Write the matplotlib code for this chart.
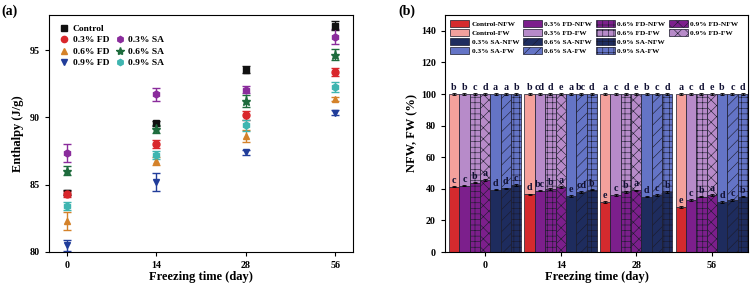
import matplotlib.pyplot as plt
import numpy as np
from matplotlib.patches import Patch
from matplotlib.lines import Line2D

plt.rcParams['font.family'] = ['Liberation Serif', 'DejaVu Serif']
plt.rcParams['font.weight'] = 'bold'
plt.rcParams['hatch.linewidth'] = 0.4

days = ['0', '14', '28', '56']

# (a) enthalpy, J/g
groups = ['Control', '0.3% FD', '0.6% FD', '0.9% FD', '0.3% SA', '0.6% SA', '0.9% SA']
enthalpy = {
    'Control': [84.4, 89.55, 93.55, 96.8],
    '0.3% FD': [84.3, 88.0, 90.15, 93.35],
    '0.6% FD': [82.3, 86.75, 88.6, 91.35],
    '0.9% FD': [80.5, 85.2, 87.4, 90.35],
    '0.3% SA': [87.35, 91.7, 92.05, 96.0],
    '0.6% SA': [86.05, 89.15, 91.2, 94.65],
    '0.9% SA': [83.45, 87.2, 89.4, 92.25],
}
enthalpy_err = {
    'Control': [0.2, 0.2, 0.25, 0.35],
    '0.3% FD': [0.2, 0.3, 0.35, 0.3],
    '0.6% FD': [0.65, 0.3, 0.45, 0.15],
    '0.9% FD': [0.4, 0.65, 0.2, 0.2],
    '0.3% SA': [0.65, 0.45, 0.25, 0.55],
    '0.6% SA': [0.3, 0.3, 0.45, 0.4],
    '0.9% SA': [0.3, 0.3, 0.4, 0.35],
}
markers = ['s', 'o', '^', 'v', 'h', '*', 'h']
mcolors = ['#111111', '#d9262b', '#d4822a', '#213d9a', '#8a2c9c', '#1d6b3c', '#3fb5b0']

# (b) non-freezable water (%), FW = 100 - NFW
nfw = {
    'Control': [41.4, 36.5, 31.5, 28.6],
    '0.3% FD': [42.0, 38.8, 36.1, 33.0],
    '0.6% FD': [43.9, 39.7, 38.0, 35.0],
    '0.9% FD': [45.4, 41.0, 39.0, 36.2],
    '0.3% SA': [39.5, 35.5, 35.0, 31.7],
    '0.6% SA': [40.3, 38.0, 36.2, 33.0],
    '0.9% SA': [42.5, 39.5, 38.0, 35.0],
}
top_letters = [['b', 'b', 'c', 'd', 'a', 'a', 'b'],
               ['b', 'cd', 'd', 'e', 'a', 'bc', 'd'],
               ['a', 'c', 'd', 'e', 'b', 'c', 'd'],
               ['a', 'c', 'd', 'e', 'b', 'c', 'd']]
nfw_letters = [['c', 'c', 'b', 'a', 'd', 'd', 'c'],
               ['d', 'bc', 'b', 'a', 'e', 'cd', 'b'],
               ['e', 'c', 'b', 'a', 'd', 'c', 'b'],
               ['e', 'c', 'b', 'a', 'd', 'c', 'b']]

nfw_colors = ['#d42a2e', '#7c1f8c', '#7c1f8c', '#7c1f8c', '#1e2c5e', '#1e2c5e', '#1e2c5e']
fw_colors = ['#f4a19c', '#b78bc9', '#b78bc9', '#b78bc9', '#6474c6', '#6474c6', '#6474c6']
hatches = [None, None, '+++', 'xxx', None, '///', '+++']

fig = plt.figure(figsize=(7.52, 2.83), dpi=100)
ax1 = fig.add_axes([49 / 752, 31 / 283, 304 / 752, 237 / 283])
ax2 = fig.add_axes([445 / 752, 31 / 283, 303 / 752, 237 / 283])

x = np.arange(len(days))
handles = []
for g, m, c in zip(groups, markers, mcolors):
    ms = 5 if m != '*' else 6.5
    ax1.errorbar(x, enthalpy[g], yerr=enthalpy_err[g], fmt=m, color=c,
                 ms=ms, capsize=3, elinewidth=1, capthick=1, mec=c)
    handles.append(Line2D([], [], ls='none', marker=m, color=c, ms=ms - 0.5))
blank = Line2D([], [], ls='none')
ax1.legend([handles[0], handles[1], handles[2], handles[3], blank,
            handles[4], handles[5], handles[6]],
           ['Control', '0.3% FD', '0.6% FD', '0.9% FD', '',
            '0.3% SA', '0.6% SA', '0.9% SA'],
           ncol=2, loc='upper left', frameon=False, fontsize=6.8,
           handletextpad=0.3, columnspacing=0.5, labelspacing=0.3,
           borderaxespad=0.6, handlelength=1.2)
ax1.set_xlim(-0.2, 3.2)
ax1.set_ylim(80, 97.6)
ax1.set_xticks(x)
ax1.set_xticklabels(days)
ax1.set_yticks([80, 85, 90, 95])
ax1.set_xlabel('Freezing time (day)', fontsize=9, fontweight='bold', labelpad=1)
ax1.set_ylabel('Enthalpy (J/g)', fontsize=9, fontweight='bold', labelpad=4)

# (b) stacked bars
step = 7.3
for d in range(len(days)):
    for i, g in enumerate(groups):
        xpos = d * step + i
        v = nfw[g][d]
        ax2.bar(xpos, v, width=1, color=nfw_colors[i], edgecolor='#1a1a2a',
                linewidth=0.5, hatch=hatches[i])
        ax2.bar(xpos, 100 - v, bottom=v, width=1, color=fw_colors[i],
                edgecolor='#1a1a2a', linewidth=0.5, hatch=hatches[i])
        ax2.errorbar(xpos, v, yerr=0.5, color='black', capsize=1.5,
                     elinewidth=0.6, capthick=0.6)
        ax2.errorbar(xpos, 100, yerr=0.4, color='black', capsize=1.5,
                     elinewidth=0.6, capthick=0.6)
        ax2.text(xpos, 101.5, top_letters[d][i], ha='center', va='bottom',
                 fontsize=7.2, fontweight='bold', color='#111133')
        ax2.text(xpos, v + 1.2, nfw_letters[d][i], ha='center', va='bottom',
                 fontsize=7.2, fontweight='bold', color='#111133')

labels_b = ['Control-NFW', 'Control-FW', '0.3% SA-NFW', '0.3% SA-FW',
            '0.3% FD-NFW', '0.3% FD-FW', '0.6% SA-NFW', '0.6% SA-FW',
            '0.6% FD-NFW', '0.6% FD-FW', '0.9% SA-NFW', '0.9% SA-FW',
            '0.9% FD-NFW', '0.9% FD-FW', '', '']
idx_b = [(0, 'n'), (0, 'f'), (4, 'n'), (4, 'f'),
         (1, 'n'), (1, 'f'), (5, 'n'), (5, 'f'),
         (2, 'n'), (2, 'f'), (6, 'n'), (6, 'f'),
         (3, 'n'), (3, 'f'), None, None]
leg_handles = []
for item in idx_b:
    if item is None:
        leg_handles.append(Patch(color='none'))
        continue
    i, part = item
    col = nfw_colors[i] if part == 'n' else fw_colors[i]
    leg_handles.append(Patch(facecolor=col, edgecolor='#1a1a2a', linewidth=0.5,
                             hatch=hatches[i]))
ax2.legend(leg_handles, labels_b, ncol=4, loc='upper left', frameon=False,
           fontsize=5.3, handlelength=2.6, handleheight=1.1,
           handletextpad=0.3, columnspacing=0.5, labelspacing=0.25,
           borderaxespad=0.3)

ax2.set_xlim(-0.88, 3 * step + 6.5)
ax2.set_ylim(0, 150)
ax2.set_yticks(np.arange(0, 141, 20))
ax2.set_xticks([d * step + 3 for d in range(len(days))])
ax2.set_xticklabels(days)
ax2.set_xlabel('Freezing time (day)', fontsize=9, fontweight='bold', labelpad=1)
ax2.set_ylabel('NFW, FW (%)', fontsize=9, fontweight='bold', labelpad=2)

for ax in (ax1, ax2):
    ax.tick_params(labelsize=7.2, width=0.8, length=3)
    for lab in ax.get_xticklabels() + ax.get_yticklabels():
        lab.set_fontweight('bold')
    for s in ax.spines.values():
        s.set_linewidth(0.8)

fig.text(0.002, 0.985, '(a)', fontsize=10, fontweight='bold', va='top')
fig.text(398 / 752, 0.985, '(b)', fontsize=10, fontweight='bold', va='top')

fig.savefig('out.png', dpi=100)
